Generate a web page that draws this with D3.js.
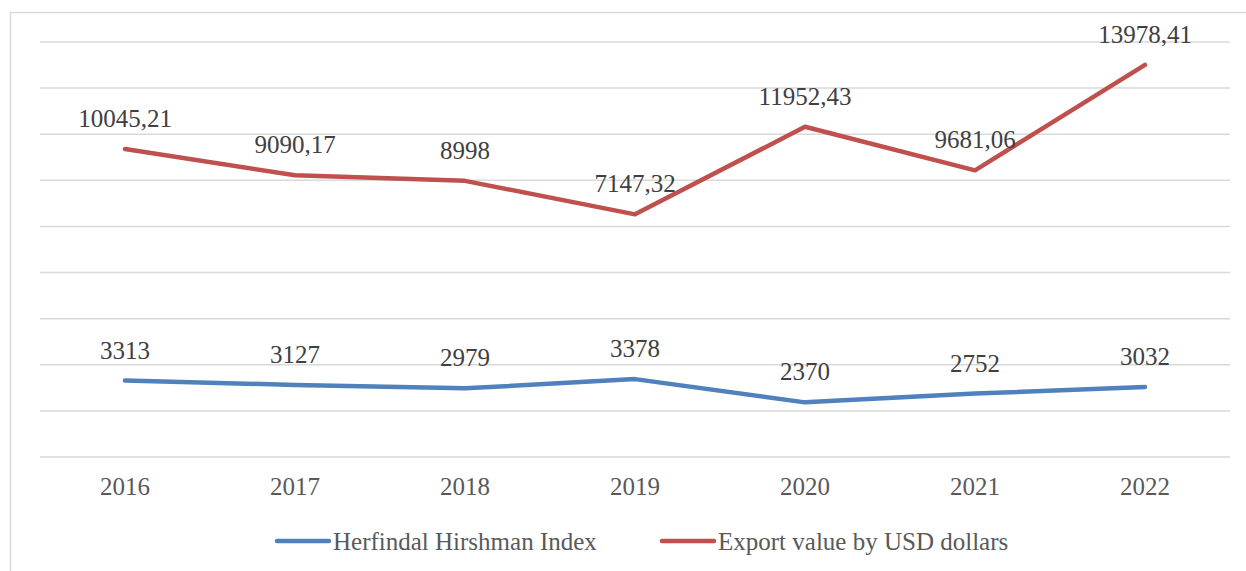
<!DOCTYPE html>
<html>
<head>
<meta charset="utf-8">
<script src="https://cdn.jsdelivr.net/npm/d3@7"></script>
<style>
  body { margin: 0; background: #fff; }
  text { font-family: "Liberation Serif", "DejaVu Serif", serif; }
</style>
</head>
<body>
<div id="chart"></div>
<script>
// data (stacked line chart: export is drawn on top of HHI)
var years = ["2016", "2017", "2018", "2019", "2020", "2021", "2022"];
var hhi = [3313, 3127, 2979, 3378, 2370, 2752, 3032];
var exportValue = [10045.21, 9090.17, 8998, 7147.32, 11952.43, 9681.06, 13978.41];
var exportLabels = ["10045,21", "9090,17", "8998", "7147,32", "11952,43", "9681,06", "13978,41"];
var seriesNames = ["Herfindal Hirshman Index", "Export value by USD dollars"];
var colors = ["#4f81bd", "#c0504d"];

var W = 1246, H = 571;
var margin = {top: 42, right: 16, bottom: 114, left: 40},
    width = W - margin.left - margin.right,
    height = H - margin.top - margin.bottom;

var svg = d3.select("#chart")
  .append("svg")
    .attr("width", W)
    .attr("height", H);

// chart frame
svg.append("rect")
  .attr("x", 10.5).attr("y", 12.5)
  .attr("width", W + 20).attr("height", H + 20)
  .attr("fill", "none")
  .attr("stroke", "#d9d9d9")
  .attr("stroke-width", 1.5);

var g = svg.append("g")
  .attr("transform", "translate(" + margin.left + "," + margin.top + ")");

var x = d3.scaleBand()
  .domain(years)
  .range([0, 1190]);

var y = d3.scaleLinear()
  .domain([0, 18000])
  .range([height, 0]);

// gridlines
g.append("g")
  .selectAll("line")
  .data(y.ticks(9))
  .enter()
  .append("line")
    .attr("x1", 0).attr("x2", 1190)
    .attr("y1", function(d) { return y(d); })
    .attr("y2", function(d) { return y(d); })
    .attr("stroke", "#d9d9d9")
    .attr("stroke-width", 1.5);

// x axis labels
var xAxis = g.append("g")
  .attr("transform", "translate(0," + height + ")")
  .call(d3.axisBottom(x).tickSize(0).tickPadding(20));
xAxis.select(".domain").remove();
xAxis.selectAll("text")
  .attr("font-family", "Liberation Serif")
  .attr("font-size", 25)
  .attr("fill", "#595959");

// stacked values
var stacked = years.map(function(yr, i) {
  return {year: yr, a: hhi[i], b: hhi[i] + exportValue[i]};
});

var cx = function(d) { return x(d.year) + x.bandwidth() / 2; };

var lines = [
  {key: "a", color: colors[0], labels: hhi.map(String)},
  {key: "b", color: colors[1], labels: exportLabels}
];

lines.forEach(function(s) {
  g.append("path")
    .datum(stacked)
    .attr("fill", "none")
    .attr("stroke", s.color)
    .attr("stroke-width", 4.5)
    .attr("stroke-linecap", "round")
    .attr("stroke-linejoin", "round")
    .attr("d", d3.line()
      .x(cx)
      .y(function(d) { return y(d[s.key]); }));

  g.selectAll(null)
    .data(stacked)
    .enter()
    .append("text")
      .attr("x", cx)
      .attr("y", function(d) { return y(d[s.key]) - 22; })
      .attr("text-anchor", "middle")
      .attr("font-size", 25)
      .attr("fill", "#404040")
      .text(function(d, i) { return s.labels[i]; });
});

// legend
var legendItems = [{x: 275}, {x: 660}];
legendItems.forEach(function(item, i) {
  var lg = svg.append("g").attr("transform", "translate(" + item.x + ",541)");
  lg.append("line")
    .attr("x1", 2).attr("x2", 54)
    .attr("stroke", colors[i])
    .attr("stroke-width", 4.5)
    .attr("stroke-linecap", "round");
  lg.append("text")
    .attr("x", 58)
    .attr("y", 9)
    .attr("font-size", 25)
    .attr("fill", "#595959")
    .text(seriesNames[i]);
});
</script>
</body>
</html>
